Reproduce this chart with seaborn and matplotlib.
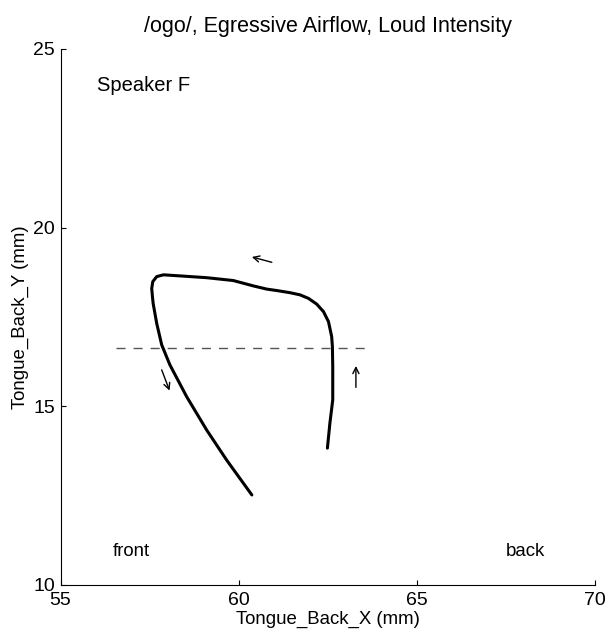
import matplotlib
matplotlib.use('Agg')
import matplotlib.pyplot as plt
import seaborn as sns
import pandas as pd

# Tongue back trajectory (mm), in time order
traj_x = [62.49, 62.56, 62.64, 62.64, 62.63, 62.61, 62.52, 62.38, 62.19, 61.96,
          61.72, 61.44, 61.07, 60.79, 60.41, 59.85, 59.10, 58.35, 57.89, 57.70,
          57.59, 57.56, 57.58, 57.60, 57.70, 57.84, 58.07, 58.54, 59.10, 59.66,
          60.13, 60.37]
traj_y = [13.83, 14.53, 15.18, 16.11, 16.67, 16.95, 17.37, 17.65, 17.86, 18.02,
          18.12, 18.18, 18.24, 18.28, 18.37, 18.52, 18.60, 18.65, 18.68, 18.63,
          18.49, 18.30, 18.07, 17.88, 17.32, 16.72, 16.16, 15.27, 14.34, 13.50,
          12.85, 12.52]

# horizontal reference (dashed)
ref_x = [56.56, 63.55]
ref_y = [16.63, 16.63]

# direction arrows: (tail, head)
arrows = [((60.93, 19.03), (60.37, 19.18)),
          ((63.29, 15.53), (63.29, 16.13)),
          ((57.84, 16.02), (58.06, 15.44))]

x_ticks = [55, 60, 65, 70]
y_ticks = [10, 15, 20, 25]

sns.set_style('ticks')
plt.rcParams['font.family'] = ['Liberation Sans', 'DejaVu Sans']
plt.rcParams['text.color'] = 'black'
plt.rcParams['axes.labelcolor'] = 'black'

fig = plt.figure(figsize=(6.05, 6.42), dpi=100)
ax = fig.add_axes([0.100, 0.0888, 0.8835, 0.8349])

df = pd.DataFrame({'x': traj_x, 'y': traj_y})
sns.lineplot(data=df, x='x', y='y', sort=False, estimator=None,
             color='black', linewidth=2.2, ax=ax)
sns.lineplot(x=ref_x, y=ref_y, color='#555555', linewidth=1.0,
             linestyle=(0, (6.5, 5.8)), ax=ax)

for tail, head in arrows:
    ax.annotate('', xy=head, xytext=tail,
                arrowprops=dict(arrowstyle='->', lw=1.0, color='black',
                                mutation_scale=11, shrinkA=0, shrinkB=0))

fs = 13.4
ax.text(56.02, 23.83, 'Speaker F', fontsize=14.5, va='baseline', color='black')
ax.text(56.48, 10.81, 'front', fontsize=fs, va='baseline', color='black')
ax.text(67.50, 10.81, 'back', fontsize=fs, va='baseline', color='black')

ax.set_xlim(55, 70)
ax.set_ylim(10, 25)
ax.set_xticks(x_ticks)
ax.set_yticks(y_ticks)
ax.tick_params(direction='in', length=3.6, width=0.8, labelsize=14,
               colors='black')
ax.tick_params(axis='x', pad=5)
ax.tick_params(axis='y', pad=4)
sns.despine(ax=ax)
for s in ['left', 'bottom']:
    ax.spines[s].set_color('black')
    ax.spines[s].set_linewidth(0.8)

ax.set_xlabel('Tongue_Back_X (mm)', fontsize=fs, labelpad=1, color='black')
ax.set_ylabel('Tongue_Back_Y (mm)', fontsize=fs, labelpad=3, color='black')
ax.set_title('/ogo/, Egressive Airflow, Loud Intensity', fontsize=15.5,
             pad=12.5, color='black')

fig.savefig('out.png', dpi=100)
